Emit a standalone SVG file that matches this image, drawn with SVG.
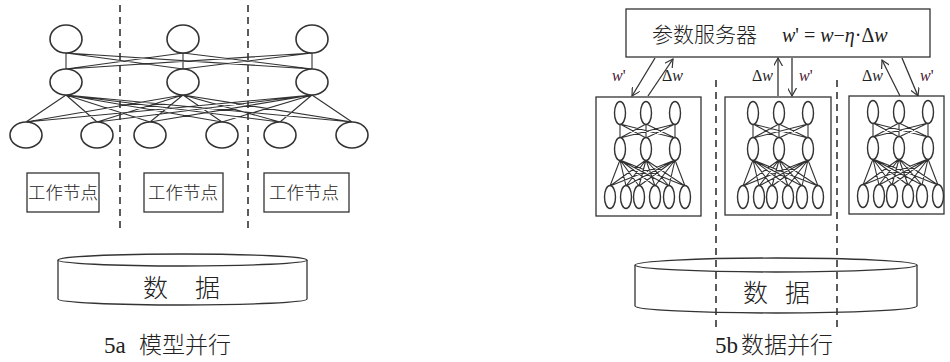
<svg xmlns="http://www.w3.org/2000/svg" xmlns:xlink="http://www.w3.org/1999/xlink" width="950" height="362" viewBox="0 0 950 362">
<style>
.n{fill:#fff;stroke:#333;stroke-width:1.6}
.sn{fill:#fff;stroke:#333;stroke-width:1.4}
.ln{stroke:#333;stroke-width:1.1;fill:none}
.box{fill:#fff;stroke:#333;stroke-width:1.3}
.dash{stroke:#333;stroke-width:1.6;stroke-dasharray:7,5;fill:none}
.cjk{font-family:"Noto Sans CJK SC","Noto Sans",sans-serif;font-weight:300;fill:#222}
.ser{font-family:"Liberation Serif","Noto Sans CJK SC",serif;fill:#222}
.arr{stroke:#333;stroke-width:1.3;fill:none;marker-end:url(#ah)}
.wp{fill:#4a1232}
</style>
<defs>
<marker id="ah" viewBox="0 0 10 10" refX="9" refY="5" markerWidth="9" markerHeight="9" orient="auto" markerUnits="userSpaceOnUse">
<path d="M0,0 L9,5 L0,10" fill="none" stroke="#333" stroke-width="1.3"/>
</marker>
<g id="net">
<g class="ln">
<path d="M24,27 L24,41 M24,27 L50,41 M24,27 L79,41 M50,27 L24,41 M50,27 L50,41 M50,27 L79,41 M79,27 L24,41 M79,27 L50,41 M79,27 L79,41"/>
<path d="M24,63 L14,89 M24,63 L30,89 M24,63 L43,89 M24,63 L59,89 M24,63 L73,89 M24,63 L89,89 M50,63 L14,89 M50,63 L30,89 M50,63 L43,89 M50,63 L59,89 M50,63 L73,89 M50,63 L89,89 M79,63 L14,89 M79,63 L30,89 M79,63 L43,89 M79,63 L59,89 M79,63 L73,89 M79,63 L89,89"/>
</g>
<ellipse class="sn" cx="24" cy="16" rx="5.5" ry="11.5"/>
<ellipse class="sn" cx="50" cy="16" rx="5.5" ry="11.5"/>
<ellipse class="sn" cx="79" cy="16" rx="5.5" ry="11.5"/>
<ellipse class="sn" cx="24" cy="52" rx="5.5" ry="11.5"/>
<ellipse class="sn" cx="50" cy="52" rx="5.5" ry="11.5"/>
<ellipse class="sn" cx="79" cy="52" rx="5.5" ry="11.5"/>
<ellipse class="sn" cx="14" cy="100" rx="5.5" ry="11.5"/>
<ellipse class="sn" cx="30" cy="100" rx="5.5" ry="11.5"/>
<ellipse class="sn" cx="43" cy="100" rx="5.5" ry="11.5"/>
<ellipse class="sn" cx="59" cy="100" rx="5.5" ry="11.5"/>
<ellipse class="sn" cx="73" cy="100" rx="5.5" ry="11.5"/>
<ellipse class="sn" cx="89" cy="100" rx="5.5" ry="11.5"/>
</g>
</defs>
<rect width="950" height="362" fill="#fff"/>

<!-- ===== 5a model parallel ===== -->
<g id="connectors-a">
<path class="ln" d="M66,53 L66,69 M66,53 L183,69 M66,53 L312,69 M183,53 L66,69 M183,53 L183,69 M183,53 L312,69 M312,53 L66,69 M312,53 L183,69 M312,53 L312,69"/>
<path class="ln" d="M66,95 L26,122 M66,95 L97,122 M66,95 L150,122 M66,95 L222,122 M66,95 L280,122 M66,95 L352,122 M183,95 L26,122 M183,95 L97,122 M183,95 L150,122 M183,95 L222,122 M183,95 L280,122 M183,95 L352,122 M312,95 L26,122 M312,95 L97,122 M312,95 L150,122 M312,95 L222,122 M312,95 L280,122 M312,95 L352,122"/>
</g>
<g id="neurons-a">
<g id="a-t1"><ellipse class="n" cx="66" cy="39" rx="16" ry="14"/></g>
<g id="a-t2"><ellipse class="n" cx="183" cy="39" rx="16" ry="14"/></g>
<g id="a-t3"><ellipse class="n" cx="312" cy="39" rx="16" ry="14"/></g>
<g id="a-m1"><ellipse class="n" cx="66" cy="82" rx="16" ry="13"/></g>
<g id="a-m2"><ellipse class="n" cx="183" cy="82" rx="16" ry="13"/></g>
<g id="a-m3"><ellipse class="n" cx="312" cy="82" rx="16" ry="13"/></g>
<g id="a-b1"><ellipse class="n" cx="26" cy="135" rx="16" ry="13"/></g>
<g id="a-b2"><ellipse class="n" cx="97" cy="135" rx="16" ry="13"/></g>
<g id="a-b3"><ellipse class="n" cx="150" cy="135" rx="16" ry="13"/></g>
<g id="a-b4"><ellipse class="n" cx="222" cy="135" rx="16" ry="13"/></g>
<g id="a-b5"><ellipse class="n" cx="280" cy="135" rx="16" ry="13"/></g>
<g id="a-b6"><ellipse class="n" cx="352" cy="135" rx="16" ry="13"/></g>
</g>
<g id="worker-a1"><rect class="box" x="27" y="173" width="72" height="39"/><text class="cjk" x="63" y="199" font-size="17.5" text-anchor="middle">工作节点</text></g>
<g id="worker-a2"><rect class="box" x="144" y="173" width="79" height="39"/><text class="cjk" x="183" y="199" font-size="17.5" text-anchor="middle">工作节点</text></g>
<g id="worker-a3"><rect class="box" x="264" y="173" width="85" height="39"/><text class="cjk" x="304" y="199" font-size="17.5" text-anchor="middle">工作节点</text></g>
<g id="data-a">
<path class="box" d="M58,260 L58,299 A124.5,6 0 0 0 307,299 L307,260"/>
<ellipse class="box" cx="182.5" cy="260" rx="124.5" ry="6"/>
<text class="cjk" font-size="25" y="297"><tspan x="143">数</tspan><tspan x="195">据</tspan></text>
</g>
<g id="dividers-a">
<line class="dash" x1="120" y1="5" x2="120" y2="232"/>
<line class="dash" x1="248" y1="5" x2="248" y2="232"/>
</g>
<text id="caption-a" y="353" font-size="23"><tspan class="ser" x="104">5a</tspan><tspan class="cjk" x="139">模型并行</tspan></text>

<!-- ===== 5b data parallel ===== -->
<g id="param-server">
<rect class="box" x="626" y="9" width="304" height="48"/>
<text class="cjk" x="652" y="42" font-size="21">参数服务器</text>
<text class="ser" x="782" y="42" font-size="20"><tspan font-style="italic">w</tspan>' = <tspan font-style="italic">w</tspan>−<tspan font-style="italic">η</tspan>·Δ<tspan font-style="italic">w</tspan></text>
</g>
<g id="connectors-b">
<line class="arr" x1="655" y1="58" x2="632" y2="96"/>
<line class="arr" x1="648" y1="96" x2="673" y2="59"/>
<line class="arr" x1="778" y1="96" x2="778" y2="58"/>
<line class="arr" x1="792" y1="58" x2="792" y2="96"/>
<line class="arr" x1="900" y1="96" x2="882" y2="60"/>
<line class="arr" x1="902" y1="58" x2="918" y2="96"/>
<text class="ser wp" x="612" y="81" font-size="16"><tspan font-style="italic">w</tspan>'</text>
<text class="ser" x="662" y="81" font-size="16">Δ<tspan font-style="italic">w</tspan></text>
<text class="ser" x="752" y="81" font-size="16">Δ<tspan font-style="italic">w</tspan></text>
<text class="ser wp" x="799" y="81" font-size="16"><tspan font-style="italic">w</tspan>'</text>
<text class="ser" x="862" y="81" font-size="16">Δ<tspan font-style="italic">w</tspan></text>
<text class="ser wp" x="920" y="81" font-size="16"><tspan font-style="italic">w</tspan>'</text>
</g>
<g id="worker-b1"><rect class="box" x="596" y="97" width="105" height="119"/><use xlink:href="#net" href="#net" x="596" y="97"/></g>
<g id="worker-b2"><rect class="box" x="725" y="97" width="106" height="118"/><use xlink:href="#net" href="#net" x="729" y="97"/></g>
<g id="worker-b3"><rect class="box" x="849" y="96" width="95" height="118"/><use xlink:href="#net" href="#net" x="849" y="96"/></g>
<g id="data-b">
<path class="box" d="M635,265 L635,306 A141,7 0 0 0 917,306 L917,265"/>
<ellipse class="box" cx="776" cy="265" rx="141" ry="7"/>
<text class="cjk" font-size="25" y="302"><tspan x="743">数</tspan><tspan x="785">据</tspan></text>
</g>
<g id="dividers-b">
<line class="dash" x1="716" y1="80" x2="716" y2="330"/>
<line class="dash" x1="837" y1="80" x2="837" y2="330"/>
</g>
<text id="caption-b" y="353" font-size="23"><tspan class="ser" x="715">5b</tspan><tspan class="cjk" x="741">数据并行</tspan></text>
</svg>
